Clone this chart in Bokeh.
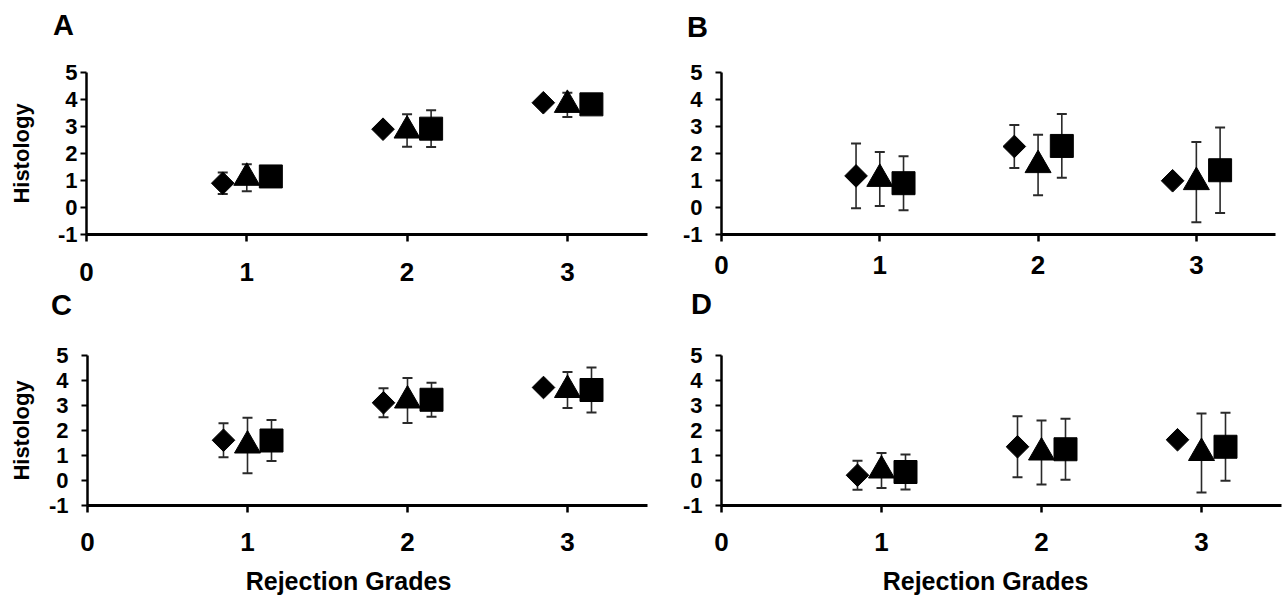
import numpy as np
from bokeh.plotting import figure
from bokeh.layouts import column, row
from bokeh.models import Range1d, FixedTicker, Whisker, TeeHead, ColumnDataSource
from bokeh.core.properties import value
from bokeh.embed import file_html
from bokeh.resources import INLINE

# ---------------- data ----------------
grades = [1, 2, 3]
x_ticks = [0, 1, 2, 3]
y_ticks = [-1, 0, 1, 2, 3, 4, 5]
panel_letters = ["A", "B", "C", "D"]
x_title = "Rejection Grades"
y_title = "Histology"

A_diamond = [0.90, 2.90, 3.88]
A_diamond_err = [0.40, 0.20, 0.15]
A_triangle = [1.10, 2.85, 3.80]
A_triangle_err = [0.50, 0.60, 0.45]
A_square = [1.15, 2.92, 3.82]
A_square_err = [0.30, 0.68, 0.30]

B_diamond = [1.17, 2.26, 0.99]
B_diamond_err = [1.20, 0.80, 0.10]
B_triangle = [1.06, 1.57, 0.94]
B_triangle_err = [1.00, 1.12, 1.49]
B_square = [0.90, 2.28, 1.38]
B_square_err = [1.00, 1.18, 1.58]

C_diamond = [1.61, 3.11, 3.72]
C_diamond_err = [0.68, 0.58, 0.10]
C_triangle = [1.40, 3.20, 3.62]
C_triangle_err = [1.11, 0.90, 0.72]
C_square = [1.60, 3.23, 3.62]
C_square_err = [0.82, 0.68, 0.90]

D_diamond = [0.21, 1.35, 1.63]
D_diamond_err = [0.58, 1.22, 0.10]
D_triangle = [0.40, 1.12, 1.10]
D_triangle_err = [0.70, 1.28, 1.58]
D_square = [0.34, 1.25, 1.35]
D_square_err = [0.70, 1.22, 1.36]

offsets = {"diamond": -0.15, "triangle": 0.0, "square": 0.15}

FONT = "Liberation Sans"
XR = (0, 3.5)
YR = (-1, 5)
TOTAL_W = 1282


def make_panel(series, width, height, borders, ytick_standoff,
               xtick_standoff, ylabel_standoff, show_ylabel):
    left, right, top, bottom = borders
    p = figure(width=width, height=height,
               x_range=Range1d(*XR), y_range=Range1d(*YR),
               output_backend="svg", toolbar_location=None,
               min_border_left=left, min_border_right=right,
               min_border_top=top, min_border_bottom=bottom,
               background_fill_color="white", border_fill_color="white")
    p.outline_line_color = None
    p.grid.visible = False

    p.xaxis.ticker = FixedTicker(ticks=x_ticks)
    p.yaxis.ticker = FixedTicker(ticks=y_ticks)
    p.yaxis.major_label_overrides = {-1: "-1"}
    p.xaxis.minor_tick_line_color = None
    p.yaxis.minor_tick_line_color = None
    p.xaxis.axis_line_width = 3
    p.yaxis.axis_line_width = 2.5
    p.axis.axis_line_color = "black"
    p.axis.major_tick_line_color = "black"
    p.xaxis.major_tick_line_width = 2.5
    p.yaxis.major_tick_line_width = 2
    p.xaxis.major_tick_in = 0
    p.xaxis.major_tick_out = 7
    p.yaxis.major_tick_in = 0
    p.yaxis.major_tick_out = 6
    p.xaxis.major_label_text_font = FONT
    p.yaxis.major_label_text_font = FONT
    p.axis.major_label_text_font_style = "bold"
    p.axis.major_label_text_color = "black"
    p.xaxis.major_label_text_font_size = "26px"
    p.xaxis.major_label_text_line_height = 1.0
    p.yaxis.major_label_text_font_size = "22px"
    p.xaxis.major_label_standoff = xtick_standoff
    p.yaxis.major_label_standoff = ytick_standoff
    if show_ylabel:
        p.yaxis.axis_label = y_title
        p.yaxis.axis_label_text_font = FONT
        p.yaxis.axis_label_text_font_style = "bold"
        p.yaxis.axis_label_text_font_size = "22px"
        p.yaxis.axis_label_text_color = "black"
        p.yaxis.axis_label_standoff = ylabel_standoff

    for kind, (vals, errs) in series.items():
        xs = [g + offsets[kind] for g in grades]
        src = ColumnDataSource(data=dict(
            x=xs, y=vals,
            upper=[v + e for v, e in zip(vals, errs)],
            lower=[v - e for v, e in zip(vals, errs)]))
        p.add_layout(Whisker(base="x", upper="upper", lower="lower", source=src,
                             line_color="#2a2a2a", line_width=1.6,
                             upper_head=TeeHead(size=10, line_color="#2a2a2a", line_width=2),
                             lower_head=TeeHead(size=10, line_color="#2a2a2a", line_width=2)))
    for kind, (vals, errs) in series.items():
        xs = [g + offsets[kind] for g in grades]
        src = ColumnDataSource(data=dict(x=xs, y=vals))
        if kind == "diamond":
            p.scatter("x", "y", source=src, marker="square", size=16, angle=np.pi / 4,
                      fill_color="black", line_color="black")
        elif kind == "triangle":
            p.scatter("x", "y", source=src, marker="triangle", size=26,
                      fill_color="black", line_color="black")
        else:
            p.scatter("x", "y", source=src, marker="square", size=23,
                      fill_color="black", line_color="black")
    return p


def make_strip(height, xs, ys, texts, size):
    s = figure(width=TOTAL_W, height=height,
               x_range=Range1d(0, TOTAL_W), y_range=Range1d(height, 0),
               output_backend="svg", toolbar_location=None, min_border=0,
               x_axis_location=None, y_axis_location=None,
               background_fill_color="white", border_fill_color="white")
    s.outline_line_color = None
    s.grid.visible = False
    s.xgrid.grid_line_color = None
    s.ygrid.grid_line_color = None
    s.text(x=xs, y=ys, text=texts, text_font=value(FONT), text_font_style="bold",
           text_font_size=size, text_color="black",
           text_align="center", text_baseline="middle")
    return s


# vertical layout (page pixels): strip 0-50, row1 50-288, strip 288-333, row2 333-562, strip 562-597
TOP_H = 50
ROW1_H = 238
MID_H = 45
ROW2_H = 229
BOT_H = 35
W_LEFT = 668
W_RIGHT = TOTAL_W - W_LEFT

pA = make_panel({"diamond": (A_diamond, A_diamond_err),
                 "triangle": (A_triangle, A_triangle_err),
                 "square": (A_square, A_square_err)},
                W_LEFT, ROW1_H, (86, 21, 17, 54), 3, 21, 21, True)
pB = make_panel({"diamond": (B_diamond, B_diamond_err),
                 "triangle": (B_triangle, B_triangle_err),
                 "square": (B_square, B_square_err)},
                W_RIGHT, ROW1_H, (53, 7, 22, 47), 13, 14, 0, False)
pC = make_panel({"diamond": (C_diamond, C_diamond_err),
                 "triangle": (C_triangle, C_triangle_err),
                 "square": (C_square, C_square_err)},
                W_LEFT, ROW2_H, (87, 21, 22, 57), 13, 20, 12, True)
pD = make_panel({"diamond": (D_diamond, D_diamond_err),
                 "triangle": (D_triangle, D_triangle_err),
                 "square": (D_square, D_square_err)},
                W_RIGHT, ROW2_H, (53, 1, 22, 57), 13, 20, 0, False)

strip_top = make_strip(TOP_H, [63, 697], [24, 26], panel_letters[:2], "29px")
strip_mid = make_strip(MID_H, [61, 701], [16, 15], panel_letters[2:], "29px")
strip_bot = make_strip(BOT_H, [348, 985], [18, 18], [x_title, x_title], "25px")

layout = column(strip_top,
                row(pA, pB, spacing=0),
                strip_mid,
                row(pC, pD, spacing=0),
                strip_bot, spacing=0)
open("out.html", "w").write(file_html(layout, INLINE))
